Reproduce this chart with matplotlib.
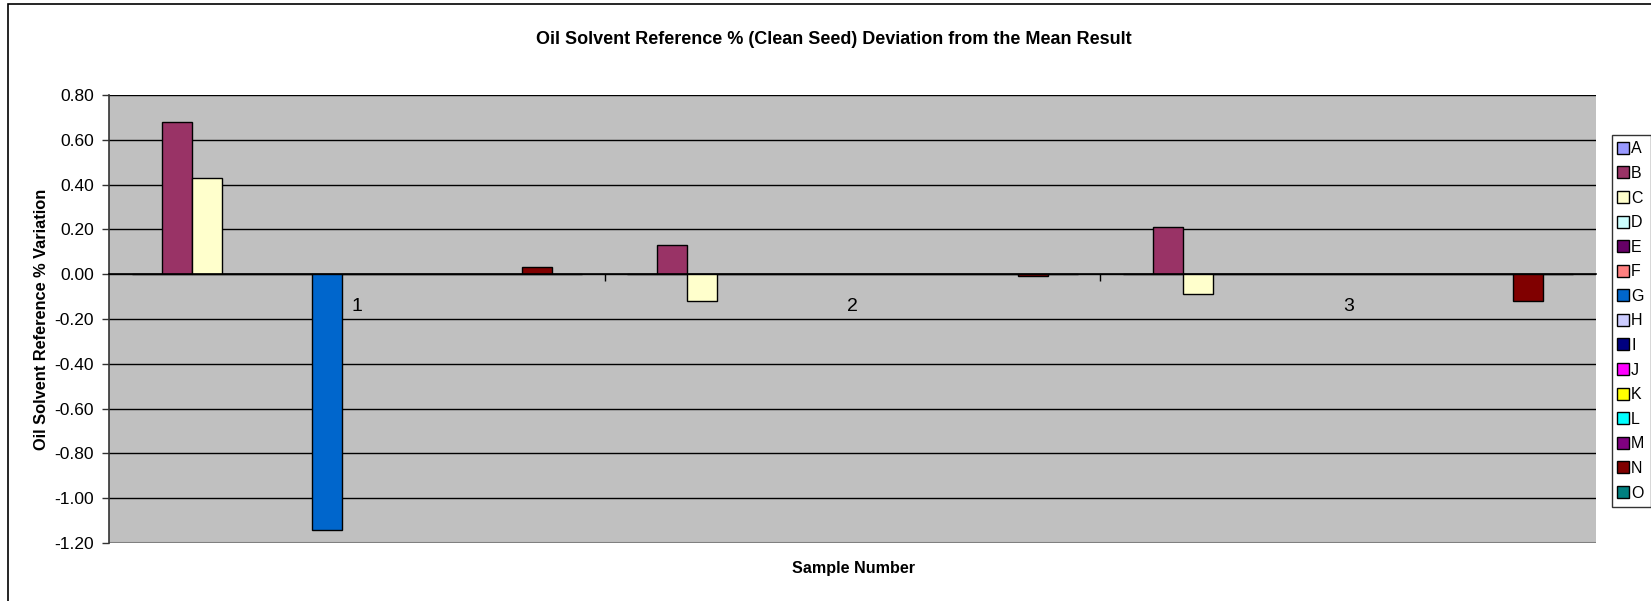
import numpy as np
import matplotlib.pyplot as plt
from matplotlib.patches import Rectangle
from matplotlib.lines import Line2D

plt.rcParams['font.family'] = ['Liberation Sans', 'DejaVu Sans']

# data
samples = ['1', '2', '3']
series = ['A', 'B', 'C', 'D', 'E', 'F', 'G', 'H', 'I', 'J', 'K', 'L', 'M', 'N', 'O']
colors = ['#9999FF', '#993366', '#FFFFCC', '#CCFFFF', '#660066', '#FF8080',
          '#0066CC', '#CCCCFF', '#000080', '#FF00FF', '#FFFF00', '#00FFFF',
          '#800080', '#800000', '#008080']
values = {
    'A': [0.00, 0.00, 0.00],
    'B': [0.68, 0.13, 0.21],
    'C': [0.43, -0.12, -0.09],
    'D': [0.00, 0.00, 0.00],
    'E': [0.00, 0.00, 0.00],
    'F': [0.00, 0.00, 0.00],
    'G': [-1.14, 0.00, 0.00],
    'H': [0.00, 0.00, 0.00],
    'I': [0.00, 0.00, 0.00],
    'J': [0.00, 0.00, 0.00],
    'K': [0.00, 0.00, 0.00],
    'L': [0.00, 0.00, 0.00],
    'M': [0.00, 0.00, 0.00],
    'N': [0.03, -0.01, -0.12],
    'O': [0.00, 0.00, 0.00],
}

W, H = 1651, 601
fig = plt.figure(figsize=(W / 100, H / 100), dpi=100)

# outer chart border (Excel chart area)
fig.patches.append(Rectangle((8 / W, -0.05), 1.2, 1 - 4 / H + 0.05,
                             transform=fig.transFigure, fill=False,
                             edgecolor='black', linewidth=1.2))

ax = fig.add_axes([109 / W, 1 - 543 / H, (1596 - 109) / W, (543 - 95) / H])
ax.set_facecolor('#C0C0C0')

n = len(series)
w = 1 / (n + 1.5)
x = np.arange(len(samples))
for j, name in enumerate(series):
    ax.bar(x + (j - (n - 1) / 2) * w, values[name], width=w, color=colors[j],
           edgecolor='black', linewidth=1, zorder=3)

ax.set_xlim(-0.5, len(samples) - 0.5)
ax.set_ylim(-1.2, 0.8)
yt = np.round(np.arange(-1.2, 0.81, 0.2), 2)
ax.set_yticks(yt)
ax.set_yticklabels([f'{v + 0.0:.2f}' for v in yt])
ax.tick_params(axis='y', labelsize=12.5, length=5, width=1, color='#333333', pad=6)
ax.grid(axis='y', color='black', linewidth=1, zorder=1)
ax.set_axisbelow(True)

# category axis crossing at zero
ax.spines['bottom'].set_position(('data', 0))
ax.spines['bottom'].set_zorder(4)
ax.spines['bottom'].set_linewidth(1.2)
ax.spines['top'].set_visible(False)
ax.spines['right'].set_visible(False)
ax.spines['left'].set_color('#333333')
ax.spines['left'].set_linewidth(1.2)
ax.set_xticks(x[:-1] + 0.5)
ax.set_xticklabels([])
ax.tick_params(axis='x', length=5, width=1, direction='out')
for i, s in enumerate(samples):
    ax.annotate(s, (i, 0), xytext=(0, -17), textcoords='offset points',
                ha='center', va='top', fontsize=14)
ax.axhline(-1.2, color='#808080', linewidth=1.5, zorder=2)

ax.set_ylabel('Oil Solvent Reference % Variation', fontsize=11.8, fontweight='bold')
ax.yaxis.label.set_va('center')
ax.yaxis.set_label_coords((42 - 109) / (1596 - 109), 0.5)
fig.text(853 / W, 1 - 569 / H, 'Sample Number', ha='center', va='center',
         fontsize=11.6, fontweight='bold')
fig.text(834 / W, 1 - 40 / H,
         'Oil Solvent Reference % (Clean Seed) Deviation from the Mean Result',
         ha='center', va='center', fontsize=13, fontweight='bold')

handles = [Line2D([], [], marker='s', linestyle='none', markersize=8,
                  markerfacecolor=c, markeredgecolor='black', markeredgewidth=1)
           for c in colors]
leg = fig.legend(handles, series, loc='upper left',
                 bbox_to_anchor=(1612 / W, 1 - 135 / H), fontsize=11.5,
                 frameon=True, fancybox=False, edgecolor='black',
                 handlelength=0.6, handletextpad=0.2, borderpad=0.4,
                 labelspacing=0.6, borderaxespad=0)
leg.get_frame().set_linewidth(1)

fig.savefig('out.png', dpi=100)
